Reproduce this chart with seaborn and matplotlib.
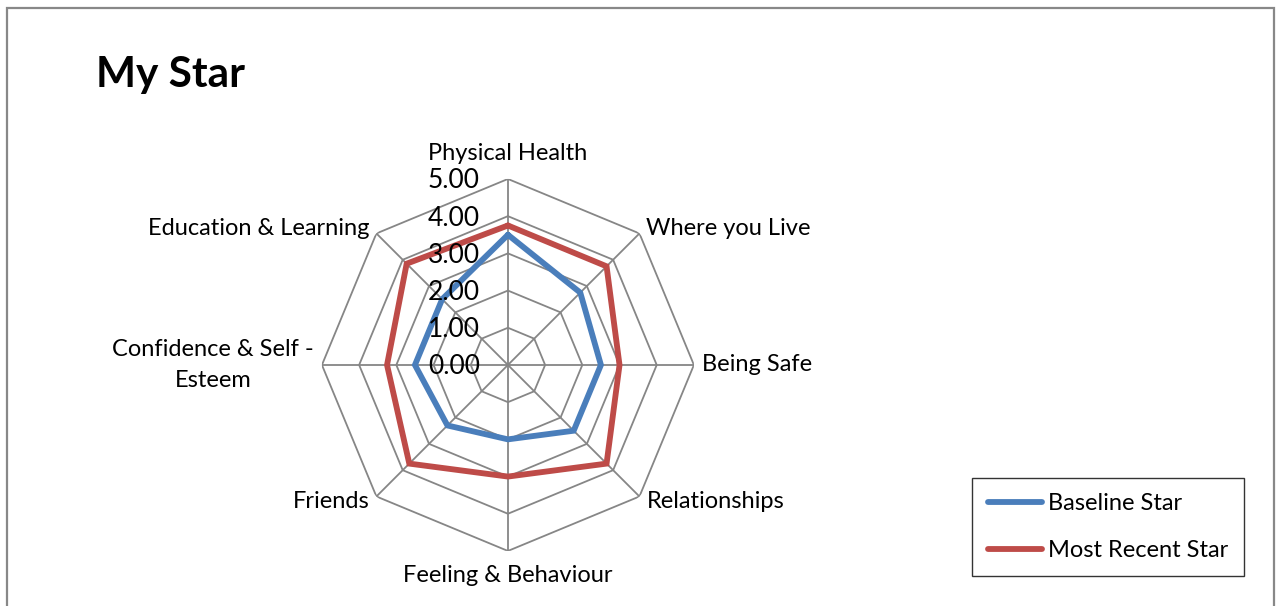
import numpy as np
import pandas as pd
import seaborn as sns
import matplotlib.pyplot as plt
from matplotlib.patches import Rectangle

categories = ["Physical Health", "Where you Live", "Being Safe", "Relationships",
              "Feeling & Behaviour", "Friends", "Confidence & Self -\nEsteem",
              "Education & Learning"]
baseline = [3.5, 2.75, 2.5, 2.5, 2.0, 2.3, 2.5, 2.5]
recent = [3.75, 3.75, 3.0, 3.75, 3.0, 3.75, 3.25, 3.85]
rings = [1, 2, 3, 4, 5]
ring_labels = ["0.00", "1.00", "2.00", "3.00", "4.00", "5.00"]

sns.set_theme(style="white")
plt.rcParams["font.family"] = ["Lato", "DejaVu Sans"]
plt.rcParams["text.color"] = "black"

n = len(categories)
angles = np.arange(n) * 2 * np.pi / n

df = pd.DataFrame({
    "angle": np.concatenate([angles, angles[:1], angles, angles[:1]]),
    "value": baseline + baseline[:1] + recent + recent[:1],
    "series": ["Baseline Star"] * (n + 1) + ["Most Recent Star"] * (n + 1),
})

fig = plt.figure(figsize=(12.77, 6.06), dpi=100)
ax = fig.add_axes([0.2521, 0.0908, 0.2913, 0.6139], projection="polar")
ax.set_theta_offset(np.pi / 2)
ax.set_theta_direction(-1)
ax.set_ylim(0, 5)
ax.grid(False)
ax.set_xticks([])
ax.set_yticks([])
ax.spines["polar"].set_visible(False)

grid_col = "#868686"
closed = np.append(angles, angles[0])
for r in rings:
    ax.plot(closed, [r] * (n + 1), color=grid_col, lw=1.3, zorder=1)
for a in angles:
    ax.plot([a, a], [0, 5], color=grid_col, lw=1.3, zorder=1)

palette = {"Baseline Star": "#4a7ebb", "Most Recent Star": "#be4b48"}
for name, grp in df.groupby("series", sort=False):
    ax.plot(grp["angle"], grp["value"], color=palette[name], lw=4.2,
            solid_joinstyle="miter", zorder=3, label=name)

# radial value labels along the top spoke
for i, lab in enumerate(ring_labels):
    ax.annotate(lab, xy=(0, i), xytext=(-28, -2), textcoords="offset pixels",
                ha="right", va="center", fontsize=19, color="black", zorder=4)

# category labels (offsets in pixels from the outer vertex)
offsets = [(0, 25, "center"), (7, 5, "left"), (8, 0, "left"), (7, -5, "left"),
           (0, -25, "center"), (-7, -5, "right"), (-8, 0, "right"), (-7, 5, "right")]
for a, lab, (dx, dy, ha) in zip(angles, categories, offsets):
    ax.annotate(lab, xy=(a, 5), xytext=(dx, dy), textcoords="offset pixels",
                ha=ha, va="center", multialignment="center", linespacing=1.6,
                fontsize=17, color="black", annotation_clip=False)

fig.text(96 / 1277, 1 - 75 / 606, "My Star", fontsize=30.5, fontweight="bold",
         ha="left", va="center", color="black")

leg = fig.legend(loc="center", bbox_to_anchor=(1108 / 1277, 1 - 527 / 606),
                 fontsize=17, frameon=True, fancybox=False, handlelength=2.3,
                 handletextpad=0.25, borderpad=0.65, labelspacing=1.1,
                 borderaxespad=0)
leg.get_frame().set_edgecolor("black")
leg.get_frame().set_linewidth(1.0)
for t in leg.get_texts():
    t.set_color("black")

fig.patches.append(Rectangle((7 / 1277, -0.1), 1267 / 1277, 1.1 - 8 / 606,
                             transform=fig.transFigure, fill=False,
                             edgecolor="#888888", lw=1.6))

fig.savefig("out.png", dpi=100, facecolor="white")
